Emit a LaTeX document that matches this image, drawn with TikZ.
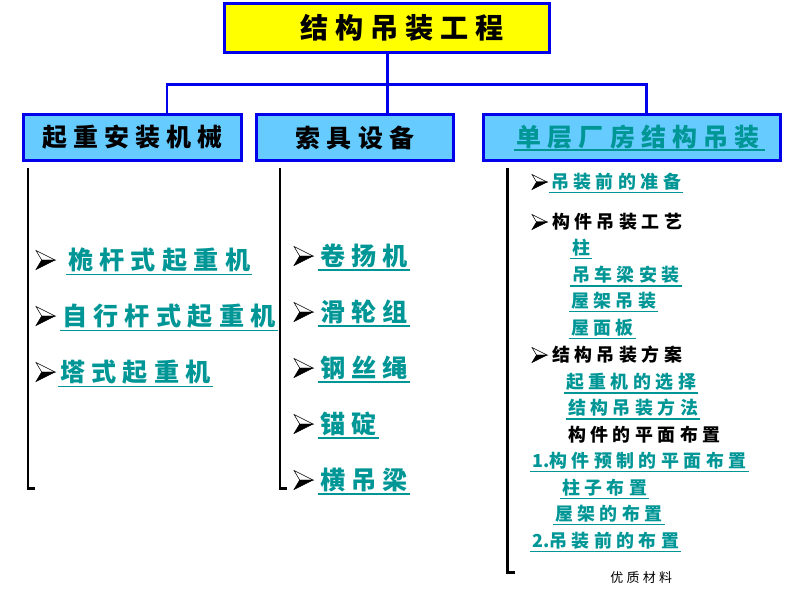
\documentclass[tikz,border=0pt]{standalone}
\usepackage{fontspec}
\newfontfamily\cjk[LetterSpace=25]{Noto Sans CJK SC}
\usepackage{tikz}
\usetikzlibrary{positioning, calc}
\definecolor{frame_blue}{RGB}{0,0,235}
\definecolor{box_lightblue}{RGB}{102,204,255}
\definecolor{title_yellow}{RGB}{255,255,0}
\definecolor{link_teal}{RGB}{0,150,150}
\newcommand{\tightnum}[1]{{\addfontfeature{LetterSpace=0}#1}}
\tikzstyle{conn} = [draw=frame_blue, line width=1.7pt]
\tikzstyle{topbox} = [draw=frame_blue, line width=1.7pt, fill=title_yellow, minimum width=6.5cm, minimum height=0.98cm, font=\cjk\bfseries\fontsize{16pt}{19pt}\selectfont]
\tikzstyle{catbox} = [draw=frame_blue, line width=1.7pt, fill=box_lightblue, minimum height=0.92cm, font=\cjk\bfseries\fontsize{14.2pt}{17pt}\selectfont]
\tikzstyle{bracket} = [line width=1.7pt]
\tikzstyle{bigitem} = [anchor=west, inner sep=1pt, text=link_teal, font=\cjk\bfseries\fontsize{14.3pt}{17pt}\selectfont]
\tikzstyle{smallitem} = [anchor=west, inner sep=1pt, text=link_teal, font=\cjk\bfseries\fontsize{10.2pt}{12pt}\selectfont]
\tikzstyle{smallhead} = [smallitem, text=black]
\tikzstyle{uline} = [draw=link_teal, line width=0.8pt]
\tikzset{bul/.pic={
    \filldraw[fill=white, draw=black, line width=0.3pt] (0,0) -- (-1,-0.5) -- (-0.7,0) -- cycle;
    \filldraw[fill=black, draw=black, line width=0.3pt] (0,0) -- (-0.7,0) -- (-1,0.5) -- cycle;
}}

\begin{document}
\begin{tikzpicture}[x=0.02cm, y=-0.02cm]
        \useasboundingbox (0,0) rectangle (800,600);

        % boxes
        \node (title) [topbox] at (387,28) {\hspace*{0.6cm}结构吊装工程};
        \node (crane) [catbox, minimum width=4.36cm] at (132.5,137.5) {起重安装机械};
        \node (rigging) [catbox, minimum width=3.94cm] at (355,137.5) {索具设备};
        \node (factory) [catbox, minimum width=5.94cm, text=link_teal] at (632,137.5) {\hspace*{0.25cm}单层厂房结构吊装};
        \draw [uline] ([xshift=-2.36cm, yshift=-0.25cm]factory.center) -- ([xshift=2.66cm, yshift=-0.25cm]factory.center);

        \coordinate (busL) at (167,84);
        \coordinate (busR) at (646,84);
        \draw [conn] (title.south) -- (title.south |- busL);
        \draw [conn] (busL |- crane.north) -- (busL) -- (busR) -- (busR |- factory.north);
        \draw [conn] (title.south |- busL) -- (title.south |- rigging.north);

        % brackets
        \draw [bracket] (28,168) -- (28,488) -- (35,488);
        \draw [bracket] (280,168) -- (280,488) -- (287,488);
        \draw [bracket] (507,168) -- (507,572) -- (515,572);

        % crane column
        \pic [scale=19] at (55,260) {bul};
        \pic [scale=19] at (55,316) {bul};
        \pic [scale=19] at (55,372) {bul};
        \node (mast) [bigitem] at (66,260) {桅杆式起重机};
        \node (mobile) [bigitem] at (60,316) {自行杆式起重机};
        \node (tower) [bigitem] at (58,372) {塔式起重机};

        % rigging column
        \foreach \y in {256,312,368,424,480}
            \pic [scale=19] at (313,\y) {bul};
        \node (winch) [bigitem] at (318,256) {卷扬机};
        \node (pulley) [bigitem] at (318,312) {滑轮组};
        \node (rope) [bigitem] at (318,368) {钢丝绳};
        \node (deadman) [bigitem] at (318,424) {锚碇};
        \node (beam) [bigitem] at (318,480) {横吊梁};

        % factory column
        \pic [scale=15] at (547,182) {bul};
        \pic [scale=15] at (547,222) {bul};
        \pic [scale=15] at (547,355) {bul};
        \node (prep) [smallitem] at (549,182) {吊装前的准备};
        \node (process) [smallhead] at (550,222) {构件吊装工艺};
        \node (column) [smallitem] at (570,248) {柱};
        \node (crbeam) [smallitem] at (570,275) {吊车梁安装};
        \node (truss) [smallitem] at (569,301) {屋架吊装};
        \node (roof) [smallitem] at (569,328) {屋面板};
        \node (scheme) [smallhead] at (550,355) {结构吊装方案};
        \node (choose) [smallitem] at (564,382) {起重机的选择};
        \node (method) [smallitem] at (566,408) {结构吊装方法};
        \node (layout) [smallhead] at (566,435) {构件的平面布置};
        \node (pre1) [smallitem] at (530,461) {\tightnum{1.}构件预制的平面布置};
        \node (colplace) [smallitem] at (560,488) {柱子布置};
        \node (trussplace) [smallitem] at (553,514) {屋架的布置};
        \node (pre2) [smallitem] at (530,541) {\tightnum{2.}吊装前的布置};

        \foreach \n in {mast, mobile, tower, winch, pulley, rope, deadman, beam, prep, column, crbeam, truss, roof, choose, method, pre1, colplace, trussplace, pre2}
            \draw [uline] (\n.south west) -- (\n.south east);

        \node (footer) [anchor=west, inner sep=0pt, font=\cjk\fontsize{7.4pt}{9pt}\selectfont] at (610,578) {优质材料};
\end{tikzpicture}
\end{document}
